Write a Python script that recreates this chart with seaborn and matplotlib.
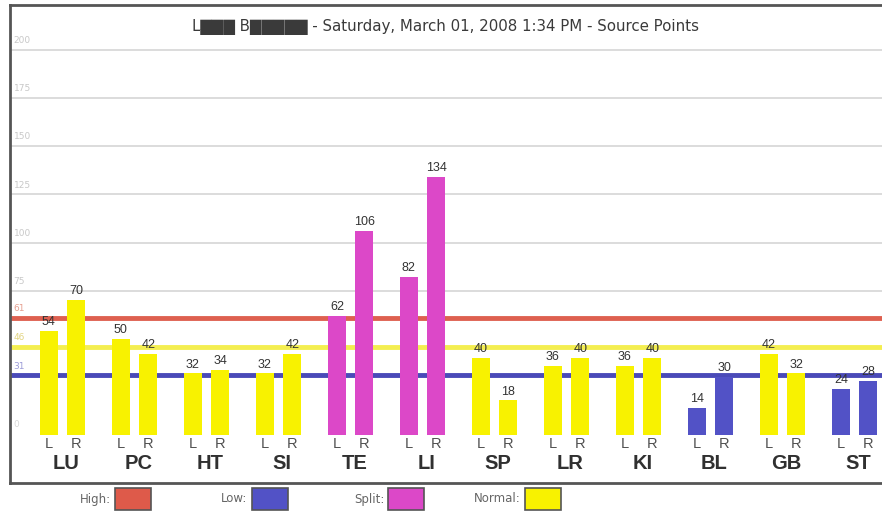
import matplotlib
matplotlib.use("Agg")
import matplotlib.pyplot as plt
import matplotlib.patches as mpatches
import seaborn as sns
import pandas as pd

# readings per meridian, left and right side
meridians = ["LU", "PC", "HT", "SI", "TE", "LI", "SP", "LR", "KI", "BL", "GB", "ST"]
left_vals = [54, 50, 32, 32, 62, 82, 40, 36, 36, 14, 42, 24]
right_vals = [70, 42, 34, 42, 106, 134, 18, 40, 40, 30, 32, 28]
left_status = ["Normal", "Normal", "Normal", "Normal", "Split", "Split",
               "Normal", "Normal", "Normal", "Low", "Normal", "Low"]
right_status = ["Normal", "Normal", "Normal", "Normal", "Split", "Split",
                "Normal", "Normal", "Normal", "Low", "Normal", "Low"]

# reference levels
high_level = 61
normal_level = 46
low_level = 31
grid_ticks = [75, 100, 125, 150, 175, 200]

legend_labels = ["High:", "Low:", "Split:", "Normal:"]
status_colors = {"High": "#de5a4a", "Low": "#5252c6", "Split": "#dc48c8", "Normal": "#f8f200"}
title = "L\u2588\u2588\u2588 B\u2588\u2588\u2588\u2588\u2588 - Saturday, March 01, 2008 1:34 PM - Source Points"

df = pd.DataFrame({
    "meridian": meridians * 2,
    "side": ["L"] * len(meridians) + ["R"] * len(meridians),
    "value": left_vals + right_vals,
})

sns.set_style("white")
plt.rcParams["font.family"] = ["DejaVu Sans"]

W, H = 882, 513
fig = plt.figure(figsize=(W / 100, H / 100), dpi=100)
# plot box: left 10px, top 5px, bottom 483px, right edge cut off by the image
ax = fig.add_axes([10 / W, (H - 483) / H, 885 / W, 478 / H])

sns.barplot(data=df, x="meridian", y="value", hue="side", order=meridians,
            hue_order=["L", "R"], dodge=True, width=0.76, gap=0.35,
            legend=False, ax=ax, zorder=3, linewidth=0)

statuses = [left_status, right_status]
values = [left_vals, right_vals]
for cont, stat, vals in zip(ax.containers, statuses, values):
    for bar, s, v in zip(cont, stat, vals):
        bar.set_facecolor(status_colors[s])
        bar.set_edgecolor("none")
        bar.set_zorder(3)
        ax.text(bar.get_x() + bar.get_width() / 2, v + 1.5, str(v), ha="center",
                va="bottom", fontsize=9, color="#333333",
                family="Liberation Sans", zorder=5)

ax.set_ylim(-24.9, 223.4)
ax.set_xlim(-0.73, 11.56)

# light grid lines and faint labels
for t in grid_ticks:
    ax.axhline(t, color="#d9d9d9", lw=1.3, zorder=1)
    ax.text(-0.68, t + 2.5, str(t), fontsize=6.5, color="#c8c8c8", va="bottom", ha="left")
ax.text(-0.68, 3, "0", fontsize=6.5, color="#d8d8d8", va="bottom", ha="left")

for lvl, col, lab_col in [(high_level, "#de6050", "#e6a090"),
                          (normal_level, "#f4ee50", "#e2d480"),
                          (low_level, "#4a4ab8", "#9c9cd8")]:
    ax.axhline(lvl, color=col, lw=3.5, zorder=2)
    ax.text(-0.68, lvl + 2.5, str(lvl), fontsize=6.5, color=lab_col, va="bottom", ha="left")

# side and meridian labels under the bars
for i, m in enumerate(meridians):
    ax.text(i - 0.19, -4.9, "L", ha="center", va="center", fontsize=10.5,
            color="#505050", family="Liberation Sans")
    ax.text(i + 0.19, -4.9, "R", ha="center", va="center", fontsize=10.5,
            color="#505050", family="Liberation Sans")
    ax.text(i + 0.05, -14.6, m, ha="center", va="center", fontsize=14.5,
            fontweight="bold", color="#303030", family="Liberation Sans")

fig.text(445 / W, (H - 27) / H, title, ha="center", va="center",
         fontsize=10.8, color="#3a3a3a")

ax.set_xticks([])
ax.set_yticks([])
ax.set_xlabel("")
ax.set_ylabel("")
for sp in ax.spines.values():
    sp.set_color("#555555")
    sp.set_linewidth(2)

# legend row below the box
legend_keys = ["High", "Low", "Split", "Normal"]
for k, (lab, key) in enumerate(zip(legend_labels, legend_keys)):
    x0 = 115 + k * 136.7
    fig.text((x0 - 4) / W, (H - 499) / H, lab, ha="right", va="center",
             fontsize=8.5, color="#666666")
    fig.patches.append(mpatches.Rectangle((x0 / W, (H - 510) / H), 36 / W, 22 / H,
                                          transform=fig.transFigure, facecolor=status_colors[key],
                                          edgecolor="#555555", lw=1.2))

fig.savefig("out.png", dpi=100, facecolor="white")
